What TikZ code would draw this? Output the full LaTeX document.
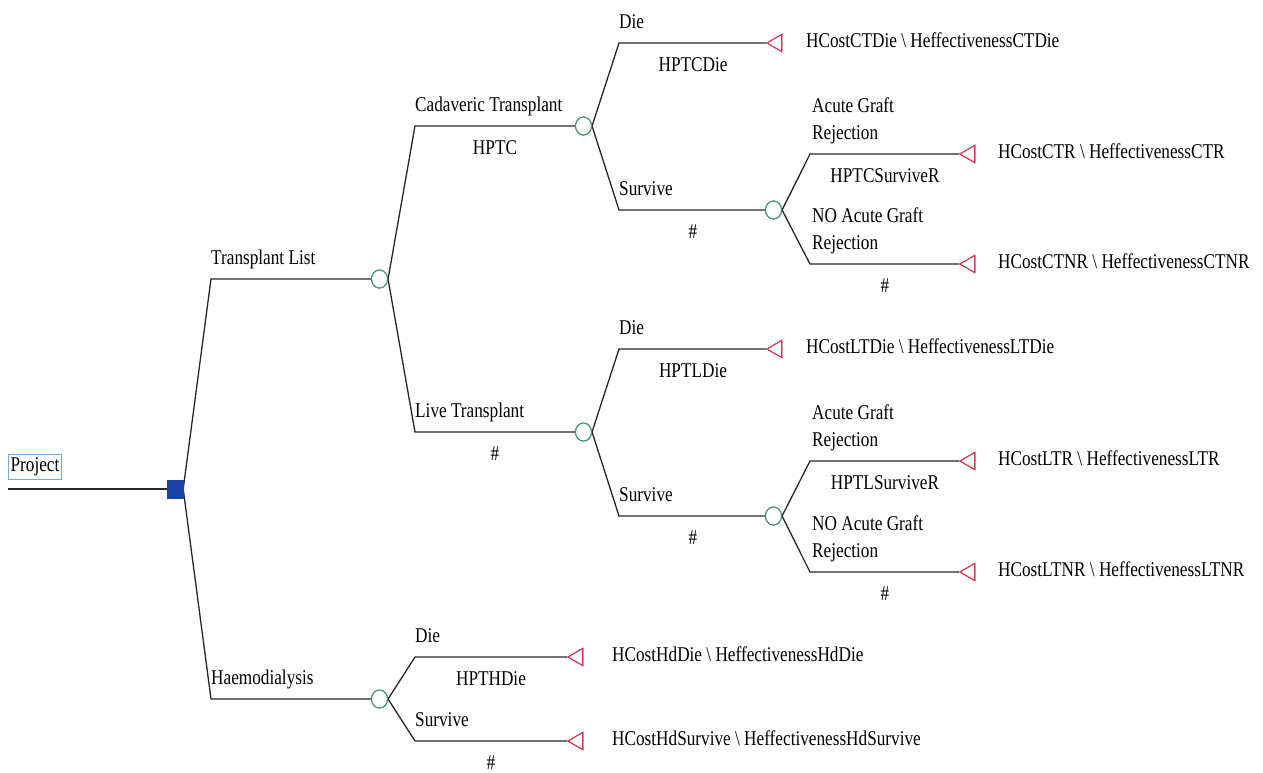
\documentclass[tikz,border=0pt]{standalone}
\usepackage{fontspec}
\setmainfont[FakeStretch=0.82]{Liberation Serif}
\usetikzlibrary{shapes.geometric}
\definecolor{chancecol}{RGB}{70,150,115}
\definecolor{termcol}{RGB}{205,60,85}
\definecolor{deccol}{RGB}{25,65,170}
\definecolor{projcol}{RGB}{110,170,220}
\begin{document}
\begin{tikzpicture}[x=1pt,y=-1pt,
  chance/.style={ellipse,draw=chancecol,fill=white,line width=1.1pt,minimum width=16pt,minimum height=18pt,inner sep=0pt},
  term/.style={regular polygon,regular polygon sides=3,shape border rotate=90,draw=termcol,fill=white,line width=1.1pt,minimum size=19.6pt,inner sep=0pt},
  decision/.style={rectangle,fill=deccol,draw=deccol,minimum width=16pt,minimum height=18pt,inner sep=0pt},
  branch/.style={line width=1.3pt,black!85},
  txt/.style={font=\fontsize{21}{25}\selectfont,inner sep=0pt},
  lbl/.style={txt,anchor=base west},
  prob/.style={txt,anchor=base},
  payoff/.style={txt,anchor=base west}]
\useasboundingbox (0,0) rectangle (1263,772);

% project
\node[txt,draw=projcol,line width=0.8pt,inner xsep=2pt,inner ysep=3pt] (proj) at (35,467) {Project};
\coordinate (p0) at (8,489);
\node[decision] (dec) at (175,489) {};

% chance nodes
\node[chance] (c1) at (379.5,279) {};
\node[chance] (c2) at (583.5,126) {};
\node[chance] (c3) at (773.5,210) {};
\node[chance] (c4) at (583.5,432) {};
\node[chance] (c5) at (773.5,516) {};
\node[chance] (c6) at (379.5,699) {};

% terminal nodes
\node[term] (t1) at (776.8,43) {};
\node[term] (t2) at (969.8,154) {};
\node[term] (t3) at (969.8,264) {};
\node[term] (t4) at (776.8,349) {};
\node[term] (t5) at (969.8,461) {};
\node[term] (t6) at (969.8,572) {};
\node[term] (t7) at (577.8,657) {};
\node[term] (t8) at (577.8,741) {};

% corners
\coordinate (ktl) at (211,279);
\coordinate (khd) at (211,699);
\coordinate (kct) at (415,126);
\coordinate (klt) at (415,432);
\coordinate (kctdie) at (619,43);
\coordinate (kctsurv) at (619,210);
\coordinate (kctr) at (810,154);
\coordinate (kctnr) at (810,264);
\coordinate (kltdie) at (619,349);
\coordinate (kltsurv) at (619,516);
\coordinate (kltr) at (810,461);
\coordinate (kltnr) at (810,572);
\coordinate (khddie) at (415,657);
\coordinate (khdsurv) at (415,741);

% connectors
\draw[branch] (p0) -- (dec.west);
\draw[branch] (dec.east) -- (ktl) -- (c1);
\draw[branch] (dec.east) -- (khd) -- (c6);
\draw[branch] (c1.east) -- (kct) -- (c2);
\draw[branch] (c1.east) -- (klt) -- (c4);
\draw[branch] (c2.east) -- (kctdie) -- (t1);
\draw[branch] (c2.east) -- (kctsurv) -- (c3);
\draw[branch] (c3.east) -- (kctr) -- (t2);
\draw[branch] (c3.east) -- (kctnr) -- (t3);
\draw[branch] (c4.east) -- (kltdie) -- (t4);
\draw[branch] (c4.east) -- (kltsurv) -- (c5);
\draw[branch] (c5.east) -- (kltr) -- (t5);
\draw[branch] (c5.east) -- (kltnr) -- (t6);
\draw[branch] (c6.east) -- (khddie) -- (t7);
\draw[branch] (c6.east) -- (khdsurv) -- (t8);

% redraw nodes on top
\node[decision] at (dec) {};
\foreach \n in {c1,c2,c3,c4,c5,c6} {\node[chance] at (\n) {};}
\foreach \n in {t1,t2,t3,t4,t5,t6,t7,t8} {\node[term] at (\n) {};}

% branch labels
\node[lbl] (l1) at (211,264) {Transplant List};
\node[lbl] (l2) at (211,684) {Haemodialysis};
\node[lbl] (l3) at (415,111) {Cadaveric Transplant};
\node[lbl] (l4) at (415,417) {Live Transplant};
\node[lbl] (l5) at (619,28) {Die};
\node[lbl] (l6) at (619,195) {Survive};
\node[lbl] (l7a) at (812,112) {Acute Graft};
\node[lbl] (l7b) at (812,139) {Rejection};
\node[lbl] (l8a) at (812,222) {NO Acute Graft};
\node[lbl] (l8b) at (812,249) {Rejection};
\node[lbl] (l9) at (619,334) {Die};
\node[lbl] (l10) at (619,501) {Survive};
\node[lbl] (l11a) at (812,419) {Acute Graft};
\node[lbl] (l11b) at (812,446) {Rejection};
\node[lbl] (l12a) at (812,530) {NO Acute Graft};
\node[lbl] (l12b) at (812,557) {Rejection};
\node[lbl] (l13) at (415,642) {Die};
\node[lbl] (l14) at (415,726) {Survive};

% probabilities
\node[prob] (q1) at (495,154) {HPTC};
\node[prob] (q2) at (495,460) {\#};
\node[prob] (q3) at (693,71) {HPTCDie};
\node[prob] (q4) at (693,238) {\#};
\node[prob] (q5) at (885,182) {HPTCSurviveR};
\node[prob] (q6) at (885,292) {\#};
\node[prob] (q7) at (693,377) {HPTLDie};
\node[prob] (q8) at (693,544) {\#};
\node[prob] (q9) at (885,489) {HPTLSurviveR};
\node[prob] (q10) at (885,600) {\#};
\node[prob] (q11) at (491,685) {HPTHDie};
\node[prob] (q12) at (491,769) {\#};

% payoffs
\node[payoff] (v1) at (806,47) {HCostCTDie \textbackslash{} HeffectivenessCTDie};
\node[payoff] (v2) at (998,158) {HCostCTR \textbackslash{} HeffectivenessCTR};
\node[payoff] (v3) at (998,268) {HCostCTNR \textbackslash{} HeffectivenessCTNR};
\node[payoff] (v4) at (806,353) {HCostLTDie \textbackslash{} HeffectivenessLTDie};
\node[payoff] (v5) at (998,465) {HCostLTR \textbackslash{} HeffectivenessLTR};
\node[payoff] (v6) at (998,576) {HCostLTNR \textbackslash{} HeffectivenessLTNR};
\node[payoff] (v7) at (612,661) {HCostHdDie \textbackslash{} HeffectivenessHdDie};
\node[payoff] (v8) at (612,745) {HCostHdSurvive \textbackslash{} HeffectivenessHdSurvive};
\end{tikzpicture}
\end{document}
